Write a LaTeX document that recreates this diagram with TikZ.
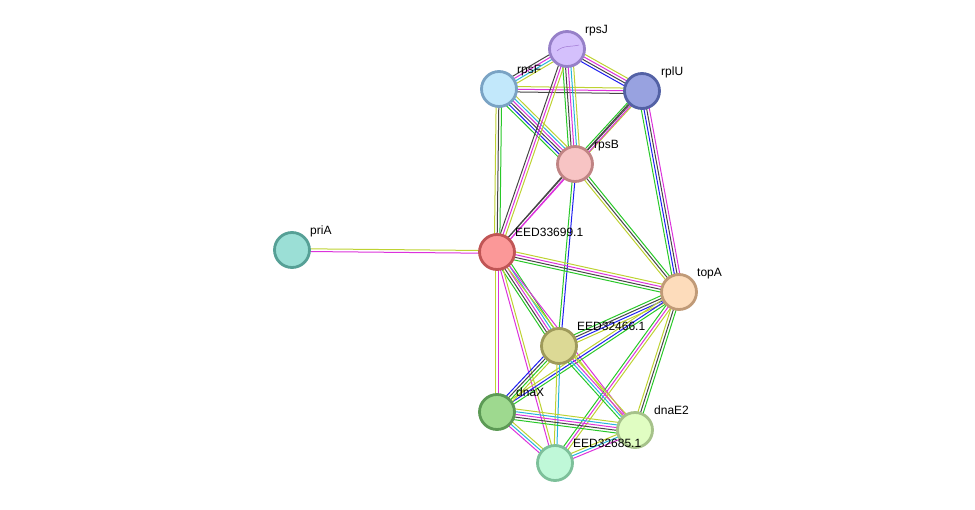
\documentclass[tikz,border=0pt]{standalone}
\usepackage{fontspec}
\setmainfont{Liberation Sans}
\usetikzlibrary{calc}
\pgfdeclarelayer{edges}
\pgfsetlayers{edges,main}
\definecolor{cG}{RGB}{40,200,40}
\definecolor{cB}{RGB}{30,30,240}
\definecolor{cK}{RGB}{70,70,70}
\definecolor{cM}{RGB}{220,50,220}
\definecolor{cC}{RGB}{40,180,220}
\definecolor{cY}{RGB}{190,210,50}
\definecolor{fJ}{RGB}{212,192,252}\definecolor{dJ}{RGB}{150,128,200}
\definecolor{fF}{RGB}{194,232,251}\definecolor{dF}{RGB}{122,163,196}
\definecolor{fU}{RGB}{152,162,224}\definecolor{dU}{RGB}{83,97,165}
\definecolor{fB}{RGB}{247,196,196}\definecolor{dB}{RGB}{192,132,132}
\definecolor{fP}{RGB}{155,223,214}\definecolor{dP}{RGB}{86,160,150}
\definecolor{fE}{RGB}{251,152,152}\definecolor{dE}{RGB}{192,85,85}
\definecolor{fT}{RGB}{253,220,187}\definecolor{dT}{RGB}{192,154,119}
\definecolor{fS}{RGB}{220,217,149}\definecolor{dS}{RGB}{158,154,90}
\definecolor{fX}{RGB}{158,217,143}\definecolor{dX}{RGB}{92,154,85}
\definecolor{fD}{RGB}{224,253,194}\definecolor{dD}{RGB}{166,194,138}
\definecolor{fH}{RGB}{191,248,216}\definecolor{dH}{RGB}{125,192,154}
\definecolor{sq}{RGB}{160,120,210}
\newcounter{ecnt}
\newcommand\sedge[3]{%
  \setcounter{ecnt}{0}%
  \foreach \c in {#3}{\stepcounter{ecnt}}%
  \foreach \c [count=\i] in {#3}{%
    \pgfmathsetmacro\off{(\i-(\arabic{ecnt}+1)/2)*2.7}%
    \draw[edgeline, draw=\c] ($(#1)!\off pt!90:(#2)$) -- ($(#2)!\off pt!-90:(#1)$);
  }%
}
\tikzset{
  prot/.style n args={2}{circle, inner sep=0pt, minimum size=35pt, line width=2.8pt, fill=#1, draw=#2},
  lbl/.style={anchor=base west, inner sep=0pt, font=\fontsize{12}{14}\selectfont},
  edgeline/.style={line width=1.0pt}
}
\begin{document}
\begin{tikzpicture}[x=1pt,y=-1pt]
\useasboundingbox (0,0) rectangle (975,509);
% nodes
\node[prot={fJ}{dJ}] (rpsJ) at (567,49) {};
\node[prot={fF}{dF}] (rpsF) at (499,89) {};
\node[prot={fU}{dU}] (rplU) at (642,91) {};
\node[prot={fB}{dB}] (rpsB) at (575,164) {};
\node[prot={fP}{dP}] (priA) at (292,250) {};
\node[prot={fE}{dE}] (E699) at (497,252) {};
\node[prot={fT}{dT}] (topA) at (679,292) {};
\node[prot={fS}{dS}] (E466) at (559,346) {};
\node[prot={fX}{dX}] (dnaX) at (497,412) {};
\node[prot={fD}{dD}] (dnaE2) at (635,430) {};
\node[prot={fH}{dH}] (E685) at (555,463) {};
% small structure sketch inside rpsJ
\draw[sq, line width=0.5pt] (557,51) .. controls (563,45) and (572,47) .. (579,45);
% labels
\node[lbl] (lrpsJ) at (585,33) {rpsJ};
\node[lbl] (lrpsF) at (517,73) {rpsF};
\node[lbl] (lrplU) at (661,75) {rplU};
\node[lbl] (lrpsB) at (594,148) {rpsB};
\node[lbl] (lpriA) at (310,234) {priA};
\node[lbl] (lE699) at (515,236) {EED33699.1};
\node[lbl] (ltopA) at (697,276) {topA};
\node[lbl] (lE466) at (577,330) {EED32466.1};
\node[lbl] (ldnaX) at (516,396) {dnaX};
\node[lbl] (ldnaE2) at (654,414) {dnaE2};
\node[lbl] (lE685) at (573,447) {EED32685.1};
% edges
\begin{pgfonlayer}{edges}
\sedge{priA}{E699}{cM,cY}
\sedge{rpsJ}{rpsF}{cK,cM,cC,cY}
\sedge{rpsJ}{rplU}{cB,cK,cM,cY}
\sedge{rpsF}{rplU}{cK,cM,cY}
\sedge{rpsJ}{rpsB}{cG,cK,cM,cC,cY}
\sedge{rpsF}{rpsB}{cG,cB,cK,cM,cC,cY}
\sedge{rplU}{rpsB}{cG,cK,cY}
\sedge{rplU}{E699}{cK,cM}
\sedge{rpsJ}{E699}{cK,cM,cY}
\sedge{rpsF}{E699}{cY,cK,cG}
\sedge{rpsB}{E699}{cK,cM}
\sedge{rpsB}{E466}{cG,cB}
\sedge{rplU}{topA}{cG,cB,cK,cM}
\sedge{rpsB}{topA}{cY,cK,cG}
\sedge{E699}{topA}{cG,cK,cM,cY}
\sedge{E699}{E466}{cG,cK,cM,cC,cG}
\sedge{E699}{dnaX}{cY,cM}
\sedge{E699}{E685}{cM,cY}
\sedge{E699}{dnaE2}{cY,cM}
\sedge{topA}{E466}{cG,cK,cB,cY}
\sedge{topA}{dnaX}{cY,cB,cG}
\sedge{topA}{E685}{cG,cM,cY}
\sedge{topA}{dnaE2}{cY,cK,cG}
\sedge{E466}{dnaX}{cB,cK,cG,cY}
\sedge{E466}{dnaE2}{cG,cC,cM,cY}
\sedge{E466}{E685}{cY,cC}
\sedge{dnaX}{dnaE2}{cG,cK,cM,cC,cY}
\sedge{dnaX}{E685}{cM,cC,cY}
\sedge{E685}{dnaE2}{cM,cC,cY}
\end{pgfonlayer}
\end{tikzpicture}
\end{document}
